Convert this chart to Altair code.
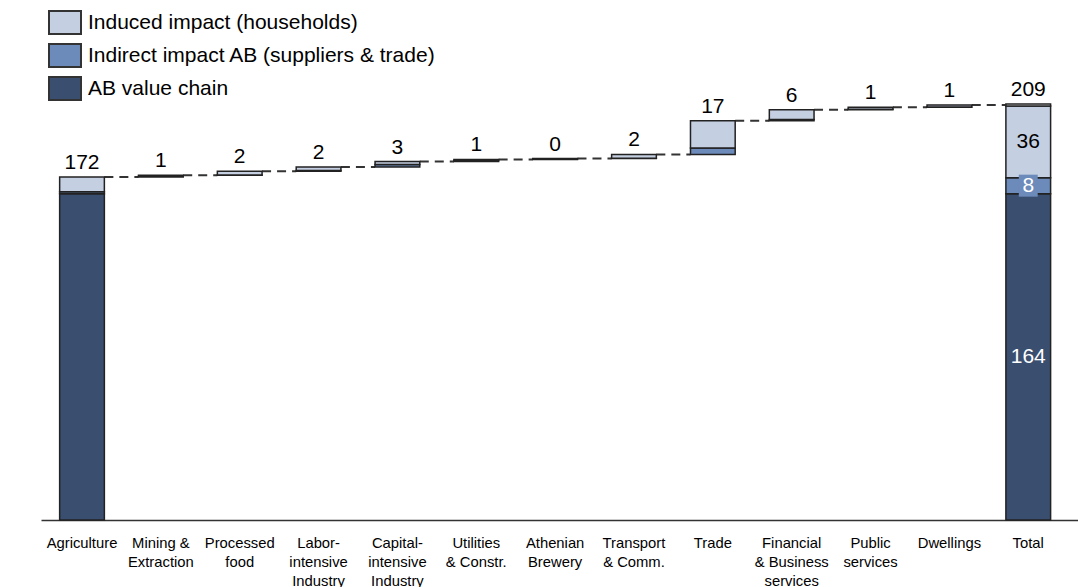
import altair as alt
import pandas as pd

categories = ["Agriculture", "Mining &|Extraction", "Processed|food",
              "Labor-|intensive|Industry", "Capital-|intensive|Industry",
              "Utilities|& Constr.", "Athenian|Brewery", "Transport|& Comm.",
              "Trade", "Financial|& Business|services", "Public|services",
              "Dwellings", "Total"]
value_chain = [164, 0, 0, 0, 0, 0, 0, 0, 0, 0, 0, 0, 164]
indirect = [1.0, 0.4, 0.2, 0.3, 1.2, 0.5, 0.2, 0.2, 3.2, 0.7, 0.2, 0.1, 8]
induced = [7.3, 0.5, 1.9, 1.8, 1.5, 0.6, 0.2, 1.9, 13.7, 4.9, 1.0, 1.1, 36]
other = [0, 0, 0, 0, 0, 0, 0, 0, 0, 0, 0, 0, 1]
top_labels = ["172", "1", "2", "2", "3", "1", "0", "2", "17", "6", "1", "1", "209"]
series_names = ["Induced impact (households)", "Indirect impact AB (suppliers & trade)",
                "AB value chain", "Other"]
total_inner_labels = ["164", "8", "36"]

colors = ["#C4CFE1", "#6C8ABA", "#3A4E70", "#F4F6FA"]
FONT = "Liberation Sans"

# ---- build segments (waterfall) ----
seg_rows, conn_rows, lab_rows = [], [], []
running = 0.0
tops = []
n = len(categories)
for i, cat in enumerate(categories):
    is_total = (i == n - 1)
    base = 0.0 if (i == 0 or is_total) else running
    level = base
    parts = [("AB value chain", value_chain[i]),
             ("Indirect impact AB (suppliers & trade)", indirect[i]),
             ("Induced impact (households)", induced[i]),
             ("Other", other[i])]
    for name, v in parts:
        if v > 0:
            seg_rows.append({"cat": cat, "series": name, "y0": level, "y1": level + v})
            level += v
    tops.append(level)
    lab_rows.append({"cat": cat, "top": level, "label": top_labels[i]})
    if not is_total:
        running = level

for i in range(n - 1):
    conn_rows.append({"from": categories[i], "to": categories[i + 1], "level": tops[i]})

seg = pd.DataFrame(seg_rows)
conn = pd.DataFrame(conn_rows)
labs = pd.DataFrame(lab_rows)

# inner labels of total bar (centres of the stacked segments)
tv = [value_chain[-1], indirect[-1], induced[-1]]
centres = [tv[0] / 2, tv[0] + tv[1] / 2, tv[0] + tv[1] + tv[2] / 2]
inner = pd.DataFrame({"cat": ["Total"] * 3, "y": centres, "label": total_inner_labels,
                      "col": ["white", "white", "black"]})
box = inner.iloc[[1]]

xscale = alt.Scale(domain=categories, paddingInner=0.433, paddingOuter=0.292, align=0.405)
yscale = alt.Scale(domain=[0, 261.3], nice=False, zero=True)

xaxis = alt.Axis(title=None, labelExpr="split(datum.label, '|')", labelAngle=0,
                 labelFontSize=14.8, labelFont=FONT, labelColor="#000",
                 labelLineHeight=19, labelPadding=15, ticks=False, tickSize=0,
                 domainColor="#333", domainWidth=1.5, labelLimit=200, grid=False)

X = alt.X("cat:N", scale=xscale, axis=xaxis, sort=categories)

legend = alt.Legend(values=series_names[:3], orient="none", legendX=7, legendY=5.5,
                    title=None, symbolType="M-1,-0.72H1V0.72H-1Z", symbolSize=1024,
                    symbolStrokeColor="#333", symbolStrokeWidth=2, symbolOpacity=1,
                    labelFontSize=21, labelFont=FONT, labelColor="#000",
                    labelLimit=600, rowPadding=0, labelOffset=6, padding=0)

bars = alt.Chart(seg).mark_bar(stroke="#222", strokeWidth=1.5, opacity=1).encode(
    x=X,
    y=alt.Y("y0:Q", scale=yscale, axis=None),
    y2="y1:Q",
    fill=alt.Fill("series:N", scale=alt.Scale(domain=series_names, range=colors), legend=legend),
)

connectors = alt.Chart(conn).mark_rule(color="#333", strokeWidth=2, strokeDash=[9, 6]).encode(
    x=alt.X("from:N", scale=xscale, axis=xaxis, sort=categories, bandPosition=1),
    x2=alt.X2("to:N", bandPosition=0),
    y=alt.Y("level:Q", scale=yscale, axis=None),
)

toptext = alt.Chart(labs).mark_text(dy=-8, fontSize=21, font=FONT, baseline="alphabetic",
                                    color="#000").encode(
    x=X, y=alt.Y("top:Q", scale=yscale, axis=None), text="label:N")

boxmark = alt.Chart(box).mark_point(shape="M-0.86,-1H0.86V1H-0.86Z", size=484, filled=True,
                                    fill=colors[1], opacity=1, strokeWidth=0).encode(
    x=X, y=alt.Y("y:Q", scale=yscale, axis=None))

innertext = alt.Chart(inner).mark_text(fontSize=21, font=FONT, baseline="middle").encode(
    x=X, y=alt.Y("y:Q", scale=yscale, axis=None), text="label:N",
    color=alt.Color("col:N", scale=None))

chart = alt.layer(connectors, bars, toptext, boxmark, innertext).properties(
    width=1037, height=520,
    padding={"left": 41, "top": 0, "right": 0, "bottom": 67},
    autosize=alt.AutoSizeParams(type="none"),
    background="white",
).configure(font=FONT).configure_view(stroke=None, strokeWidth=0)

chart.save("out.html", embed_options={"renderer": "svg", "actions": False})
